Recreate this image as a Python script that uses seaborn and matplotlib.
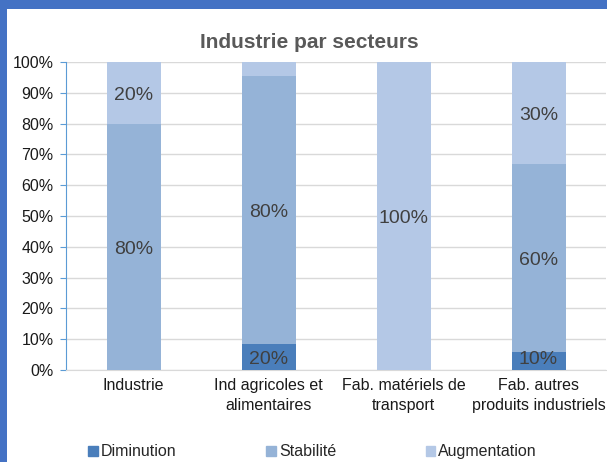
import pandas as pd
import matplotlib
matplotlib.use("Agg")
import matplotlib.pyplot as plt
import seaborn as sns
from matplotlib.patches import Rectangle, Patch

# data (share of answers, %)
categories = ["Industrie", "Ind agricoles et\nalimentaires",
              "Fab. matériels de\ntransport", "Fab. autres\nproduits industriels"]
diminution = [0, 8.3, 0, 5.7]
stabilite = [80, 87.2, 0, 61.3]
augmentation = [20, 4.5, 100, 33]
# labels printed in the bars (as shown, not always the segment heights)
lab_dim = ["", "20%", "", "10%"]
lab_sta = ["80%", "80%", "", "60%"]
lab_aug = ["20%", "", "100%", "30%"]

col_dim = "#4A7EBB"
col_sta = "#95B3D7"
col_aug = "#B4C8E6"
frame = "#4472C4"

df = pd.DataFrame({"cat": categories, "dim": diminution,
                   "sta": stabilite, "aug": augmentation})
df["c_sta"] = df["dim"] + df["sta"]
df["c_aug"] = df["c_sta"] + df["aug"]

sns.set_style("white")
plt.rcParams["font.family"] = ["Liberation Sans", "DejaVu Sans"]

fig = plt.figure(figsize=(6.07, 4.62), dpi=100)
fig.patch.set_facecolor(frame)
fig.patches.append(Rectangle((7 / 607, 0), 1, 453 / 462, transform=fig.transFigure,
                             facecolor="white", edgecolor="none", zorder=-5))
ax = fig.add_axes([66 / 607, 92 / 462, 540 / 607, 308 / 462])
ax.set_facecolor("none")

# stacked by overdrawing cumulative totals
for col, c in [("c_aug", col_aug), ("c_sta", col_sta), ("dim", col_dim)]:
    sns.barplot(data=df, x="cat", y=col, color=c, width=0.4, ax=ax,
                saturation=1, linewidth=0, zorder=3)

for i in range(len(categories)):
    segs = [(df["dim"][i], 0, lab_dim[i]),
            (df["sta"][i], df["dim"][i], lab_sta[i]),
            (df["aug"][i], df["c_sta"][i], lab_aug[i])]
    for h, b, t in segs:
        if t:
            y = b + h / 2
            if h < 10:
                y = max(y, 4.3)
            ax.text(i, y - 0.8, t, ha="center", va="center", fontsize=14,
                    color="#404040", zorder=4)

ax.set_ylim(0, 100)
ax.set_xlim(-0.5, 3.5)
ax.set_yticks(range(0, 101, 10))
ax.set_yticklabels([f"{v}%" for v in range(0, 101, 10)], fontsize=11.5, color="#1a1a1a")
ax.set_xticks(range(4))
ax.set_xticklabels(categories, fontsize=11.5, color="#1a1a1a", linespacing=1.35)
ax.set_xlabel("")
ax.set_ylabel("")
ax.grid(axis="y", color="#D9D9D9", linewidth=1, zorder=0)
for s in ["top", "right"]:
    ax.spines[s].set_visible(False)
ax.spines["left"].set_color("#5B9BD5")
ax.spines["bottom"].set_color("#D9D9D9")
ax.tick_params(axis="y", length=4, color="#5B9BD5", pad=5, left=True)
ax.tick_params(axis="x", length=0, pad=6)

fig.text(0.51, 0.908, "Industrie par secteurs", ha="center", va="center",
         fontsize=15, fontweight="bold", color="#595959")

handles = [Patch(color=col_dim, label="Diminution"),
           Patch(color=col_sta, label="Stabilité"),
           Patch(color=col_aug, label="Augmentation")]
fig.legend(handles=handles, loc="center", bbox_to_anchor=(0.515, 0.022), ncol=3,
           frameon=False, fontsize=11.5, handlelength=0.6, handleheight=0.6,
           handletextpad=0.2, columnspacing=5.6)

fig.savefig("out.png", dpi=100)
